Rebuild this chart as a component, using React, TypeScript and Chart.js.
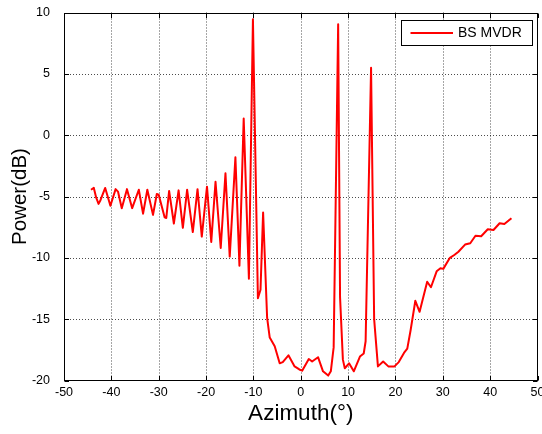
import React, { useEffect, useRef } from "react";
import { Chart, registerables } from "chart.js";

Chart.register(...registerables);

// Azimuth (degrees) and power (dB)
const azimuth = [
  -44.3, -43.7, -43.2, -42.7, -42.3, -41.3, -40.2, -39.1, -38.6, -37.8,
  -36.7, -35.6, -34.2, -33.3, -32.4, -31.2, -30.4, -30.0, -28.75, -28.4,
  -27.8, -26.8, -25.8, -24.9, -24.0, -22.8, -21.8, -20.9, -19.8, -18.9,
  -18.0, -16.9, -15.9, -15.0, -13.8, -12.95, -12.05, -10.95, -10.1, -9.05,
  -8.5, -7.95, -7.1, -6.55, -5.5, -4.45, -3.8, -2.6, -1.3, -0.3,
  0.3, 1.7, 2.4, 3.65, 4.7, 5.8, 6.35, 6.95, 7.9, 8.3,
  8.9, 9.3, 10.2, 11.2, 12.5, 13.3, 13.7, 14.85, 15.5, 16.3,
  17.4, 18.5, 19.8, 20.7, 21.8, 22.5, 23.2, 24.2, 25.1, 26.7,
  27.5, 28.7, 29.5, 30.1, 31.5, 32.5, 33.3, 34.7, 35.8, 36.9,
  38.1, 39.5, 40.7, 42.0, 43.0, 44.5,
];
const power = [
  -4.45, -4.3, -5.1, -5.6, -5.3, -4.3, -5.75, -4.4, -4.6, -5.95,
  -4.4, -5.95, -4.45, -6.4, -4.45, -6.5, -4.8, -4.85, -6.7, -6.75,
  -4.55, -7.2, -4.5, -7.55, -4.45, -7.9, -4.4, -8.27, -4.2, -8.7,
  -3.8, -9.2, -3.1, -9.9, -1.8, -10.65, 1.35, -11.7, 9.45, -13.3,
  -12.6, -6.3, -14.9, -16.5, -17.2, -18.6, -18.5, -17.95, -18.85, -19.1,
  -19.2, -18.25, -18.45, -18.1, -19.25, -19.6, -19.25, -17.3, 9.05, -13.2,
  -18.3, -19.0, -18.6, -19.25, -18.05, -17.8, -16.8, 5.5, -15.0, -18.85,
  -18.45, -18.85, -18.85, -18.5, -17.75, -17.4, -15.9, -13.5, -14.4, -11.95,
  -12.4, -11.1, -10.85, -10.9, -10.0, -9.75, -9.5, -8.92, -8.81, -8.2,
  -8.24, -7.67, -7.73, -7.18, -7.25, -6.77,
];
const xTickValues = [-50, -40, -30, -20, -10, 0, 10, 20, 30, 40, 50];
const yTickValues = [-20, -15, -10, -5, 0, 5, 10];
const seriesName = "BS MVDR";
const xTitle = "Azimuth(\u00b0)";
const yTitle = "Power(dB)";

const FONT = "'Liberation Sans', Arial, sans-serif";
const RED = "#ff0000";

const framePlugin = {
  id: "matlabFrame",
  beforeDatasetsDraw(chart: any) {
    const { ctx, chartArea: a, scales } = chart;
    const xs = scales.x;
    const ys = scales.y;
    ctx.save();
    ctx.strokeStyle = "rgba(0,0,0,0.7)";
    ctx.lineWidth = 1;
    ctx.setLineDash([1, 2]);
    xTickValues.forEach((v) => {
      const px = Math.round(xs.getPixelForValue(v)) + 0.5;
      if (px <= a.left + 1 || px >= a.right - 1) return;
      ctx.beginPath();
      ctx.moveTo(px, a.top);
      ctx.lineTo(px, a.bottom);
      ctx.stroke();
    });
    yTickValues.forEach((v) => {
      const py = Math.round(ys.getPixelForValue(v)) + 0.5;
      if (py <= a.top + 1 || py >= a.bottom - 1) return;
      ctx.beginPath();
      ctx.moveTo(a.left, py);
      ctx.lineTo(a.right, py);
      ctx.stroke();
    });
    ctx.restore();
  },
  afterDatasetsDraw(chart: any) {
    const { ctx, chartArea: a, scales } = chart;
    const xs = scales.x;
    const ys = scales.y;
    const L = Math.round(a.left) + 0.5;
    const R = Math.round(a.right) - 0.5;
    const T = Math.round(a.top) + 0.5;
    const B = Math.round(a.bottom) - 0.5;
    ctx.save();
    ctx.strokeStyle = "#000";
    ctx.lineWidth = 1;
    ctx.setLineDash([]);
    ctx.strokeRect(L, T, R - L, B - T);
    const tl = 4.5;
    ctx.beginPath();
    xTickValues.forEach((v) => {
      const px = Math.round(xs.getPixelForValue(v)) + 0.5;
      ctx.moveTo(px, B);
      ctx.lineTo(px, B - tl);
      ctx.moveTo(px, T);
      ctx.lineTo(px, T + tl);
    });
    yTickValues.forEach((v) => {
      const py = Math.round(ys.getPixelForValue(v)) + 0.5;
      ctx.moveTo(L, py);
      ctx.lineTo(L + tl, py);
      ctx.moveTo(R, py);
      ctx.lineTo(R - tl, py);
    });
    ctx.stroke();
    ctx.restore();
  },
  afterDraw(chart: any) {
    const { ctx } = chart;
    ctx.save();
    const bx = 401.5, by = 20.5, bw = 131, bh = 25;
    ctx.fillStyle = "#fff";
    ctx.fillRect(bx, by, bw, bh);
    ctx.strokeStyle = "#000";
    ctx.lineWidth = 1;
    ctx.strokeRect(bx, by, bw, bh);
    const ly = by + bh / 2;
    ctx.strokeStyle = RED;
    ctx.lineWidth = 2;
    ctx.beginPath();
    ctx.moveTo(410.5, ly);
    ctx.lineTo(453, ly);
    ctx.stroke();
    ctx.fillStyle = "#000";
    ctx.font = `14px ${FONT}`;
    ctx.textBaseline = "middle";
    ctx.textAlign = "left";
    ctx.fillText(seriesName, 458, ly + 0.5);
    ctx.restore();
  },
};

export default function App() {
  const ref = useRef<HTMLCanvasElement | null>(null);
  useEffect(() => {
    if (!ref.current) return;
    const points = azimuth.map((x, i) => ({ x, y: power[i] }));
    const chart = new Chart(ref.current, {
      type: "scatter",
      data: {
        datasets: [
          {
            label: seriesName,
            data: points,
            showLine: true,
            borderColor: RED,
            backgroundColor: RED,
            borderWidth: 2,
            pointRadius: 0,
            tension: 0,
            borderJoinStyle: "round",
          } as any,
        ],
      },
      options: {
        responsive: false,
        animation: false,
        devicePixelRatio: 1,
        layout: { padding: { top: 12.5, right: 4.5, left: 0, bottom: 0 } },
        plugins: { legend: { display: false }, tooltip: { enabled: false } },
        scales: {
          x: {
            type: "linear",
            min: -50,
            max: 50,
            afterBuildTicks: (s: any) => {
              s.ticks = xTickValues.map((v) => ({ value: v }));
            },
            ticks: {
              color: "#000",
              font: { family: FONT, size: 12.5 },
              padding: 5,
              maxRotation: 0,
              autoSkip: false,
            },
            grid: { display: false, drawTicks: false },
            border: { display: false },
            title: {
              display: true,
              text: xTitle,
              color: "#000",
              font: { family: FONT, size: 22.5 },
              padding: { top: 0, bottom: 7 },
            },
            afterFit: (s: any) => {
              s.height = 53.5;
              s.paddingLeft = 0;
              s.paddingRight = 0;
            },
          },
          y: {
            type: "linear",
            min: -20,
            max: 10,
            afterBuildTicks: (s: any) => {
              s.ticks = yTickValues.map((v) => ({ value: v }));
            },
            ticks: {
              color: "#000",
              font: { family: FONT, size: 12.5 },
              padding: 14,
            },
            grid: { display: false, drawTicks: false },
            border: { display: false },
            title: {
              display: true,
              text: yTitle,
              color: "#000",
              font: { family: FONT, size: 20.5 },
              padding: { top: 8, bottom: 0 },
            },
            afterFit: (s: any) => {
              s.width = 64;
              s.paddingTop = 0;
              s.paddingBottom = 0;
            },
          },
        },
      } as any,
      plugins: [framePlugin],
    });
    return () => chart.destroy();
  }, []);
  return (
    <div style={{ position: "fixed", left: 0, top: 0, width: 542, height: 434, background: "#fff" }}>
      <canvas ref={ref} width={542} height={434} style={{ width: 542, height: 434, display: "block" }} />
    </div>
  );
}
